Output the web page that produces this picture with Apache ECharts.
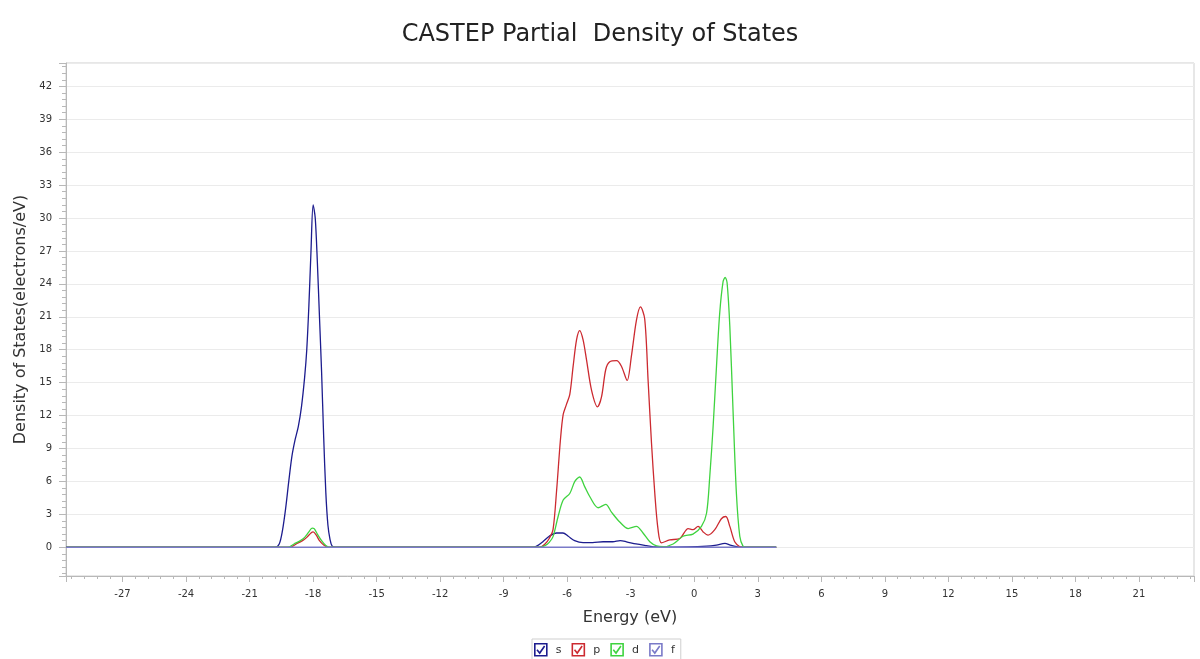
<!DOCTYPE html>
<html>
<head>
<meta charset="utf-8">
<script src="https://cdn.jsdelivr.net/npm/echarts@6/dist/echarts.min.js"></script>
<style>
html,body{margin:0;padding:0;background:#fff;}
#chart{width:1200px;height:659px;}
</style>
</head>
<body>
<div id="chart"></div>
<script>
// ---- data (Energy in eV, DOS in electrons/eV) ----
const seriesNames = ['s', 'p', 'd', 'f'];
const seriesColors = ['#1c1c8e', '#cc2a30', '#3fd33f', '#7a7ac8'];

const sEnergy = [-29.67, -19.8, -19.6, -19.45, -19.3, -19.15, -19.0, -18.85, -18.7, -18.55, -18.4, -18.3, -18.2, -18.1, -18.0, -17.9, -17.8, -17.7, -17.6, -17.5, -17.4, -17.3, -17.2, -17.1, -16.95, -7.6, -7.4, -7.15, -6.85, -6.5, -6.2, -5.95, -5.65, -5.25, -4.8, -4.3, -3.85, -3.5, -3.2, -2.75, -2.25, -1.8, -1.0, 0.6, 1.05, 1.45, 1.7, 2.0, 2.2, 3.87];
const sDos    = [0, 0, 0.3, 1.5, 3.5, 6, 8.3, 9.8, 11, 12.8, 15.5, 18, 22, 27, 31.2, 30, 26, 21, 16, 10, 5, 2, 0.7, 0.1, 0, 0, 0.15, 0.5, 1.0, 1.3, 1.3, 1.0, 0.6, 0.42, 0.42, 0.5, 0.5, 0.6, 0.5, 0.3, 0.15, 0.03, 0.02, 0.1, 0.2, 0.35, 0.2, 0.05, 0, 0];

const pEnergy = [-29.67, -19.1, -18.8, -18.5, -18.3, -18.1, -18.0, -17.85, -17.7, -17.5, -17.3, -7.3, -7.05, -6.85, -6.67, -6.5, -6.32, -6.19, -6.04, -5.88, -5.72, -5.56, -5.41, -5.25, -5.09, -4.85, -4.57, -4.38, -4.18, -3.99, -3.67, -3.44, -3.17, -2.97, -2.73, -2.54, -2.34, -2.18, -2.02, -1.86, -1.71, -1.55, -1.16, -0.68, -0.29, -0.06, 0.18, 0.42, 0.65, 0.97, 1.28, 1.49, 1.68, 1.91, 2.15, 2.3, 3.87];
const pDos    = [0, 0, 0.3, 0.6, 0.9, 1.3, 1.4, 1.1, 0.6, 0.2, 0, 0, 0.3, 0.8, 1.6, 5.2, 9.8, 12.1, 13.0, 13.9, 16.5, 18.9, 19.75, 18.9, 17.1, 14.3, 12.8, 13.7, 16.2, 16.9, 17.0, 16.5, 15.2, 17.4, 20.7, 21.9, 20.8, 15.2, 9.5, 4.8, 1.6, 0.4, 0.67, 0.8, 1.7, 1.6, 1.9, 1.4, 1.1, 1.6, 2.6, 2.8, 1.9, 0.5, 0.05, 0, 0];

const dEnergy = [-29.67, -19.2, -18.9, -18.6, -18.4, -18.2, -18.05, -17.95, -17.8, -17.6, -17.4, -17.25, -7.3, -7.05, -6.85, -6.67, -6.43, -6.19, -5.88, -5.64, -5.41, -5.17, -4.93, -4.54, -4.18, -3.91, -3.52, -3.12, -2.73, -2.42, -2.1, -1.78, -1.47, -1.0, -0.53, -0.06, 0.34, 0.58, 0.73, 0.89, 1.05, 1.2, 1.36, 1.46, 1.55, 1.68, 1.83, 1.99, 2.15, 2.3, 2.45, 3.87];
const dDos    = [0, 0, 0.3, 0.6, 0.9, 1.4, 1.75, 1.7, 1.2, 0.6, 0.15, 0, 0, 0.15, 0.45, 0.97, 2.8, 4.3, 4.9, 6.0, 6.4, 5.5, 4.6, 3.6, 3.9, 3.2, 2.3, 1.7, 1.9, 1.3, 0.5, 0.12, 0.05, 0.3, 1.0, 1.2, 1.9, 3.1, 6.4, 11.0, 16.5, 21.3, 24.2, 24.6, 24.1, 20.1, 12.5, 4.9, 1.0, 0.1, 0, 0];

const fEnergy = [-29.67, 3.87];
const fDos    = [0, 0];

const xRange = [-29.67, 23.6];
const yRange = [-2.62, 44.13];

// ---- build ----
const energies = [sEnergy, pEnergy, dEnergy, fEnergy];
const doses = [sDos, pDos, dDos, fDos];
const font = 'DejaVu Sans';

const chart = echarts.init(document.getElementById('chart'), null, {renderer: 'canvas'});
const checkIcon = 'path://M1,1H23V23H1Z M5,12L10,18L19,5';
const multOf3 = v => (Math.abs(v / 3 - Math.round(v / 3)) < 1e-6 ? String(Math.round(v)) : '');

const series = seriesNames.map((name, i) => ({
  name: name,
  type: 'line',
  data: energies[i].map((e, k) => [e, doses[i][k]]),
  showSymbol: false,
  smooth: 0.3,
  lineStyle: {color: seriesColors[i], width: 1.3},
  itemStyle: {color: seriesColors[i]},
  animation: false,
  z: 2 + i
}));

chart.setOption({
  animation: false,
  backgroundColor: '#fff',
  title: {
    text: 'CASTEP Partial  Density of States',
    left: 'center',
    top: 18,
    textStyle: {fontFamily: font, fontSize: 24, fontWeight: 'normal', color: '#222'}
  },
  grid: {
    left: 66, right: 6, top: 63, bottom: 83,
    show: true, borderColor: '#cfcfcf', borderWidth: 1, containLabel: false
  },
  legend: {
    data: seriesNames.map((n, i) => ({
      name: n,
      icon: checkIcon,
      itemStyle: {color: '#fff', borderColor: seriesColors[i], borderWidth: 1.6}
    })),
    left: 532, top: 639,
    itemWidth: 12, itemHeight: 12, itemGap: 10,
    padding: [4, 6, 6, 2],
    borderColor: '#cfcfcf', borderWidth: 1,
    textStyle: {fontFamily: font, fontSize: 11, color: '#333', padding: [0, 0, 0, 4]}
  },
  xAxis: {
    type: 'value',
    min: xRange[0], max: xRange[1],
    splitNumber: 17,
    name: 'Energy (eV)',
    nameLocation: 'middle',
    nameGap: 34,
    nameTextStyle: {fontFamily: font, fontSize: 16, color: '#333'},
    axisLine: {show: true, onZero: false, lineStyle: {color: '#b8b8b8'}},
    axisTick: {show: true, length: 6, lineStyle: {color: '#b8b8b8'}},
    minorTick: {show: true, splitNumber: 5, length: 3, lineStyle: {color: '#b8b8b8'}},
    axisLabel: {
      fontFamily: font, fontSize: 10, color: '#333', margin: 13,
      showMinLabel: false, showMaxLabel: false,
      formatter: multOf3
    },
    splitLine: {show: false}
  },
  yAxis: {
    type: 'value',
    min: yRange[0], max: yRange[1],
    splitNumber: 15,
    name: 'Density of States(electrons/eV)',
    nameLocation: 'middle',
    nameGap: 37,
    nameTextStyle: {fontFamily: font, fontSize: 16, color: '#333'},
    axisLine: {show: true, onZero: false, lineStyle: {color: '#b8b8b8'}},
    axisTick: {show: true, length: 7, lineStyle: {color: '#b8b8b8'}},
    minorTick: {show: true, splitNumber: 5, length: 4, lineStyle: {color: '#b8b8b8'}},
    axisLabel: {
      fontFamily: font, fontSize: 10, color: '#333', margin: 14,
      showMinLabel: false, showMaxLabel: false,
      formatter: multOf3
    },
    splitLine: {show: true, lineStyle: {color: '#ebebeb', width: 1}}
  },
  series: series
});
</script>
</body>
</html>
